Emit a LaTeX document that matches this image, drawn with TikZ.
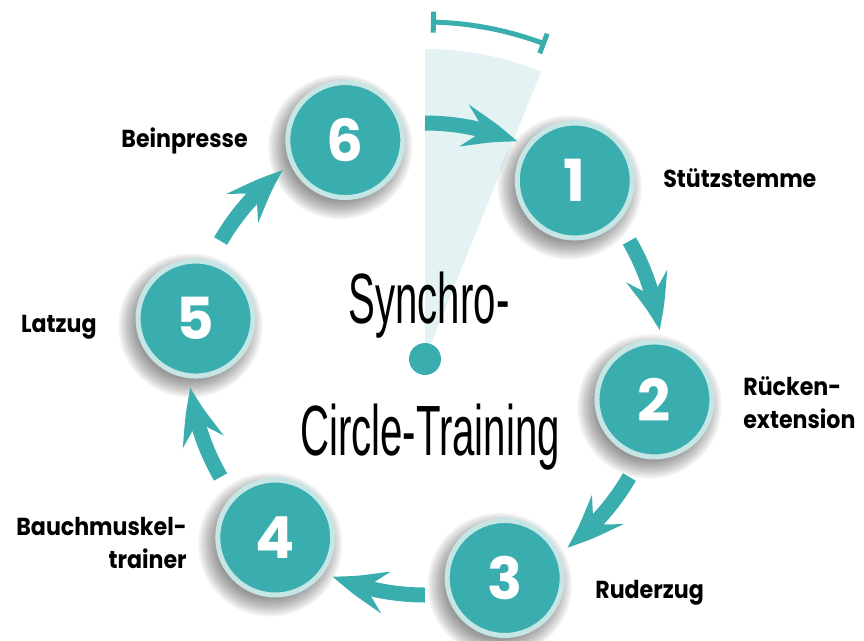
\documentclass[tikz,border=0pt]{standalone}
\usepackage{fontspec}
\setmainfont{Poppins}
\newfontfamily\labelfont{Poppins}[FakeStretch=0.9]
\newfontfamily\titlefont{Liberation Sans}
\usepackage{tikz}
\usetikzlibrary{arrows.meta,bending,calc,positioning}
\definecolor{circleteal}{HTML}{3AAEAF}
\definecolor{ringlight}{HTML}{C5E6E5}
\definecolor{wedgelight}{HTML}{E3F2F2}
\tikzset{%
	station/.style    = {circle, fill=circleteal, draw=ringlight, line width=0.1cm, minimum size=2.3cm, inner sep=0pt, text=white, font=\fontsize{33}{33}\selectfont\bfseries},
	stationlabel/.style = {inner sep=0pt, font=\labelfont\fontsize{14}{18.7}\selectfont\bfseries},
	titletext/.style  = {inner sep=0pt, font=\titlefont\fontsize{40.5}{48}\selectfont},
	bigarrow/.style   = {draw=circleteal, line width=0.3cm, -{Stealth[length=1.1cm,width=0.84cm,inset=0.4cm,bend]}},
	bracket/.style    = {draw=circleteal, line width=0.1cm, {Bar[width=0.42cm]}-{Bar[width=0.42cm]}},
}
\begin{document}
\begin{tikzpicture}[x=0.02cm,y=0.02cm]
		\useasboundingbox (-425,-281) rectangle (439,359);
		% light wedge and bracket above
		\fill[wedgelight] (0,0) -- (90:310) arc[start angle=90,end angle=68,radius=310] -- cycle;
		\draw[bracket] (89:337) arc[start angle=89,end angle=69,radius=337];
		% shadows
		\foreach \n in {1,...,6} {
			\pgfmathsetmacro\a{110-60*\n}
			\foreach \k in {0,...,9}
				\fill[black,opacity=0.05] ($(\a:233)+(-5,-7)$) circle (54+2*\k);
		}
		% stations
		\foreach \n in {1,...,6} {
			\pgfmathsetmacro\a{110-60*\n}
			\node[station] (n\n) at (\a:233) {\n};
		}
		% arrows between stations
		\foreach \n in {1,...,6} {
			\pgfmathsetmacro\a{110-60*\n}
			\coordinate (s\n) at (\a-20:236);
			\draw[bigarrow] (s\n) arc[start angle=\a-20,end angle=\a-43,radius=236];
		}
		\node[circle, fill=circleteal, minimum size=0.64cm, inner sep=0pt] (hub) at (0,0) {};
		\node[titletext, anchor=base] (title1) at (4,36) {\scalebox{0.565}[1]{Synchro-}};
		\node[titletext, anchor=base] (title2) at (5,-96) {\scalebox{0.565}[1]{Circle-Training}};
		% labels (base = last line)
		\node[stationlabel, anchor=base west] (l1) at (238,172) {Stützstemme};
		\node[stationlabel, anchor=base west, align=left] (l2) at (318,-69) {Rücken-\\extension};
		\node[stationlabel, anchor=base west] (l3) at (170,-239) {Ruderzug};
		\node[stationlabel, anchor=base east, align=right] (l4) at (-238,-209) {Bauchmuskel-\\trainer};
		\node[stationlabel, anchor=base east] (l5) at (-328,27) {Latzug};
		\node[stationlabel, anchor=base east] (l6) at (-177,212) {Beinpresse};
		\end{tikzpicture}
\end{document}
